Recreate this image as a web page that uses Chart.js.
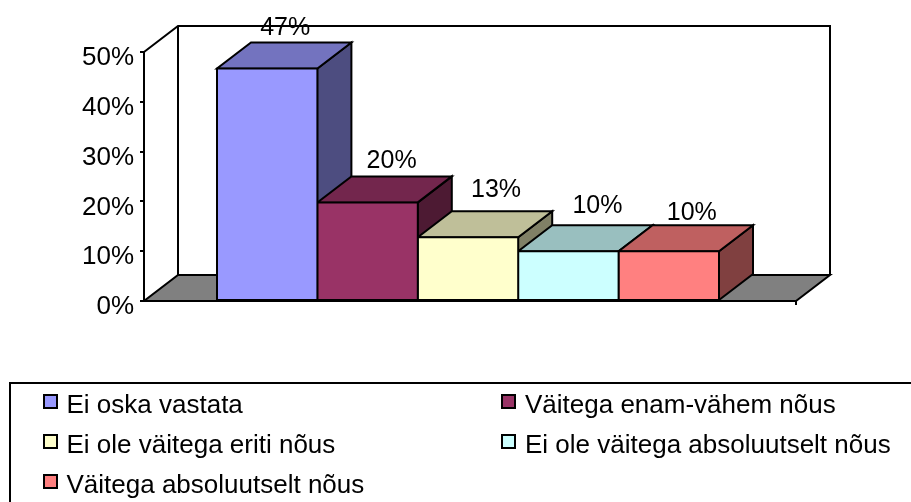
<!DOCTYPE html>
<html>
<head>
<meta charset="utf-8">
<style>html,body{margin:0;padding:0;background:#fff;overflow:hidden}canvas{display:block}</style>
<script src="https://cdn.jsdelivr.net/npm/chart.js@4/dist/chart.umd.min.js"></script>
</head>
<body>
<canvas id="c" width="911" height="502"></canvas>
<script>
const seriesNames = ['Ei oska vastata','Väitega enam-vähem nõus','Ei ole väitega eriti nõus','Ei ole väitega absoluutselt nõus','Väitega absoluutselt nõus'];
const seriesValues = [46.7, 19.8, 12.8, 10, 10];
const frontColors = ['#9999FF','#993366','#FFFFCC','#CCFFFF','#FF8080'];
const topColors = ['#7373BF','#73264D','#BFBF99','#99BFBF','#BF6060'];
const sideColors = ['#4D4D80','#4D1A33','#808066','#668080','#804040'];
const yTicks = [0,10,20,30,40,50];

const FONT = '"Liberation Sans", Arial, sans-serif';
const DX = 34, DY = -26, AXIS_EXTRA = 4;
const labelShift = [[18,-14.5],[24,-15],[28,-21],[29,-19],[23,-12.5]];
const legendCols = [[43,66.5],[501,525]];
const legendRows = [413,453,493];

function poly(ctx, pts, fill){
  ctx.beginPath();
  pts.forEach((p,i)=> i ? ctx.lineTo(p[0],p[1]) : ctx.moveTo(p[0],p[1]));
  ctx.closePath();
  if(fill){ctx.fillStyle=fill;ctx.fill();}
  ctx.stroke();
}

const depth3d = {
  id:'depth3d',
  beforeDatasetsDraw(chart){
    const ctx=chart.ctx, a=chart.chartArea, L=a.left, R=a.right+AXIS_EXTRA, T=a.top, B=a.bottom;
    ctx.save();
    ctx.strokeStyle='#000';ctx.lineWidth=2;ctx.lineJoin='miter';
    poly(ctx,[[L,B],[R,B],[R+DX,B+DY],[L+DX,B+DY]],'#808080');
    ctx.beginPath();
    ctx.moveTo(L,T);ctx.lineTo(L+DX,T+DY);ctx.lineTo(R+DX,T+DY);ctx.lineTo(R+DX,B+DY);
    ctx.moveTo(L+DX,T+DY);ctx.lineTo(L+DX,B+DY);
    ctx.moveTo(R,B);ctx.lineTo(R,B+4);
    ctx.moveTo(a.right,B);ctx.lineTo(R,B);
    ctx.stroke();
    seriesValues.forEach((v,i)=>{
      const b=chart.getDatasetMeta(i).data[0], x0=b.x-b.width/2, x1=b.x+b.width/2, y=b.y, base=b.base;
      poly(ctx,[[x1,y],[x1+DX,y+DY],[x1+DX,base+DY],[x1,base]],sideColors[i]);
      poly(ctx,[[x0,y],[x1,y],[x1+DX,y+DY],[x0+DX,y+DY]],topColors[i]);
    });
    ctx.restore();
  },
  afterDraw(chart){
    const ctx=chart.ctx;
    ctx.save();
    ctx.fillStyle='#000';ctx.font='25px '+FONT;ctx.textAlign='center';ctx.textBaseline='middle';
    seriesValues.forEach((v,i)=>{
      const b=chart.getDatasetMeta(i).data[0];
      ctx.fillText(Math.round(v)+'%',b.x+labelShift[i][0],b.y+DY+labelShift[i][1]);
    });
    // legend
    ctx.strokeStyle='#000';ctx.lineWidth=2;
    ctx.beginPath();ctx.moveTo(911,383);ctx.lineTo(10,383);ctx.lineTo(10,502);ctx.stroke();
    ctx.textAlign='left';ctx.textBaseline='alphabetic';ctx.font='26px '+FONT;
    seriesNames.forEach((n,i)=>{
      const c=legendCols[i%2], y=legendRows[Math.floor(i/2)];
      ctx.fillStyle=frontColors[i];
      ctx.fillRect(c[0]+1,y-18,13,13);
      ctx.strokeRect(c[0]+1,y-18,13,13);
      ctx.fillStyle='#000';
      ctx.fillText(n,c[1],y);
    });
    ctx.restore();
  }
};

new Chart(document.getElementById('c'),{
  type:'bar',
  data:{
    labels:[''],
    datasets:seriesNames.map((n,i)=>({
      label:n,data:[seriesValues[i]],backgroundColor:frontColors[i],
      borderColor:'#000',borderWidth:2,borderSkipped:false,inflateAmount:1,
      barPercentage:1,categoryPercentage:502/648
    }))
  },
  options:{
    responsive:false,animation:false,
    layout:{padding:{left:0,right:119,top:52,bottom:201}},
    plugins:{legend:{display:false},tooltip:{enabled:false}},
    scales:{
      x:{grid:{display:false},ticks:{display:false},border:{color:'#000',width:2},afterFit(s){s.height=0;}},
      y:{
        min:0,max:50,
        afterBuildTicks(s){s.ticks=yTicks.map(v=>({value:v}));},
        afterFit(s){s.width=144;},
        grid:{drawOnChartArea:false,drawTicks:true,tickLength:4,color:'#000',lineWidth:2},
        border:{color:'#000',width:2},
        ticks:{color:'#000',font:{family:FONT,size:26},padding:6,labelOffset:6,callback:v=>v+'%'}
      }
    }
  },
  plugins:[depth3d]
});
</script>
</body>
</html>
